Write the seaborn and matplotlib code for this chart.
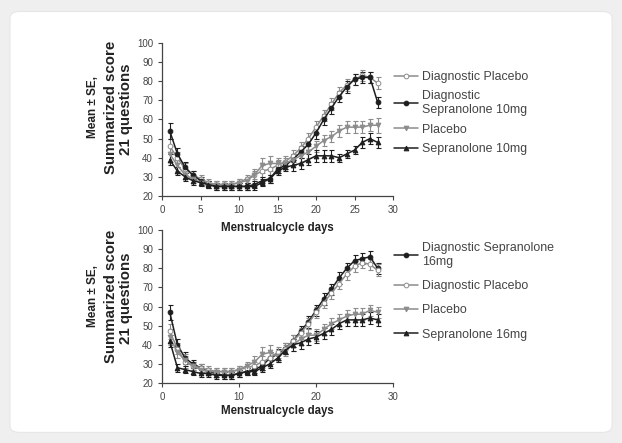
import matplotlib.pyplot as plt
import seaborn as sns
import pandas as pd
from matplotlib.patches import FancyBboxPatch

# Data: mean score per cycle day, and SE
days = list(range(1, 29))

# top panel (10mg)
top_diag_placebo = [46, 40, 34, 31, 29, 27, 26, 26, 26, 27, 29, 31, 33, 34,
                    36, 38, 41, 45, 50, 56, 62, 68, 74, 78, 81, 83, 82, 79]
top_diag_sep = [54, 42, 35, 31, 28, 26, 25, 25, 25, 25, 25, 25, 27, 29,
                34, 36, 39, 43, 47, 53, 60, 66, 72, 77, 81, 82, 82, 69]
top_placebo = [42, 36, 31, 29, 27, 26, 26, 26, 26, 27, 28, 31, 36, 37,
               37, 37, 39, 41, 43, 46, 49, 51, 54, 56, 56, 56, 57, 57]
top_sep = [39, 33, 30, 28, 27, 26, 25, 25, 25, 25, 25, 26, 28, 29,
           33, 35, 36, 37, 39, 41, 41, 41, 40, 42, 44, 48, 50, 48]

top_diag_placebo_se = [4, 3, 3, 2, 2, 2, 2, 2, 2, 2, 2, 2, 3, 3,
                       3, 3, 3, 3, 3, 3, 3, 3, 3, 3, 3, 3, 3, 3]
top_diag_sep_se = [4, 3, 3, 2, 2, 2, 2, 2, 2, 2, 2, 2, 2, 2,
                   2, 2, 3, 3, 3, 3, 3, 3, 3, 3, 3, 3, 3, 3]
top_placebo_se = [4, 3, 2, 2, 2, 2, 2, 2, 2, 2, 2, 3, 4, 4,
                  3, 3, 3, 3, 3, 3, 3, 3, 3, 3, 3, 3, 3, 4]
top_sep_se = [3, 2, 2, 2, 2, 2, 2, 2, 2, 2, 2, 2, 2, 2,
              2, 2, 3, 3, 3, 3, 3, 3, 2, 2, 2, 3, 3, 3]

# bottom panel (16mg)
bot_diag_sep = [57, 40, 33, 30, 28, 26, 25, 24, 24, 25, 26, 27, 29, 33,
                35, 38, 42, 47, 52, 58, 64, 69, 75, 80, 84, 85, 86, 80]
bot_diag_placebo = [47, 38, 31, 29, 28, 27, 26, 26, 26, 27, 28, 29, 31, 33,
                    36, 38, 42, 46, 51, 57, 62, 67, 72, 77, 81, 83, 82, 79]
bot_placebo = [44, 36, 32, 29, 27, 26, 26, 26, 26, 27, 29, 31, 35, 36,
               34, 37, 40, 43, 45, 45, 48, 51, 53, 55, 56, 56, 58, 57]
bot_sep = [42, 28, 27, 26, 25, 25, 24, 24, 24, 25, 26, 26, 28, 30,
           33, 37, 40, 41, 43, 44, 46, 48, 51, 53, 53, 53, 54, 53]

bot_diag_sep_se = [4, 3, 3, 2, 2, 2, 2, 2, 2, 2, 2, 2, 2, 3,
                   3, 3, 3, 3, 3, 3, 3, 3, 3, 3, 3, 3, 3, 3]
bot_diag_placebo_se = [4, 3, 3, 2, 2, 2, 2, 2, 2, 2, 2, 2, 3, 3,
                       3, 3, 3, 3, 3, 3, 3, 3, 3, 3, 3, 3, 3, 3]
bot_placebo_se = [4, 3, 3, 2, 2, 2, 2, 2, 2, 2, 2, 3, 4, 4,
                  3, 3, 3, 3, 3, 3, 3, 3, 3, 3, 3, 3, 3, 3]
bot_sep_se = [3, 2, 2, 2, 2, 2, 2, 2, 2, 2, 2, 2, 2, 2,
              2, 2, 3, 3, 3, 3, 3, 3, 3, 3, 3, 3, 3, 3]

grey = "#8c8c8c"
black = "#1e1e1e"
text_col = "#444444"

sns.set_style("ticks")
plt.rcParams["font.family"] = ["Liberation Sans", "DejaVu Sans"]

W, H = 622, 443
fig = plt.figure(figsize=(W / 100, H / 100), dpi=100)
fig.patch.set_facecolor("#efefef")
card = FancyBboxPatch((0.016, 0.024), 0.968, 0.95,
                      boxstyle="round,pad=0,rounding_size=0.015",
                      transform=fig.transFigure, facecolor="white",
                      edgecolor="#e6e6e6", linewidth=0.8, zorder=-10)
fig.patches.append(card)

ax_top = fig.add_axes([0.2605, 0.5576, 0.3714, 0.3454])
ax_bot = fig.add_axes([0.2605, 0.1354, 0.3714, 0.3454])

top_series = [
    ("Diagnostic Placebo", top_diag_placebo, top_diag_placebo_se, grey, "o", "white"),
    ("Diagnostic\nSepranolone 10mg", top_diag_sep, top_diag_sep_se, black, "o", black),
    ("Placebo", top_placebo, top_placebo_se, grey, "v", grey),
    ("Sepranolone 10mg", top_sep, top_sep_se, black, "^", black),
]
bot_series = [
    ("Diagnostic Sepranolone\n16mg", bot_diag_sep, bot_diag_sep_se, black, "o", black),
    ("Diagnostic Placebo", bot_diag_placebo, bot_diag_placebo_se, grey, "o", "white"),
    ("Placebo", bot_placebo, bot_placebo_se, grey, "v", grey),
    ("Sepranolone 16mg", bot_sep, bot_sep_se, black, "^", black),
]


def draw_panel(ax, series, xticks, legend_anchor, spacing, label_y, xpad):
    ax.set_facecolor("none")
    for label, vals, se, color, marker, face in series:
        df = pd.DataFrame({"day": days, "score": vals})
        ax.errorbar(days, vals, yerr=se, fmt="none", ecolor=color,
                    elinewidth=0.8, capsize=1.8, capthick=0.8, zorder=2)
        sns.lineplot(data=df, x="day", y="score", ax=ax, color=color,
                     linewidth=1.1, marker=marker, markersize=3.4,
                     markerfacecolor=face, markeredgecolor=color,
                     markeredgewidth=0.7, label=label, zorder=3)
    ax.set_xlim(0, 30)
    ax.set_ylim(20, 100)
    ax.set_xticks(xticks)
    ax.set_yticks(range(20, 101, 10))
    ax.tick_params(labelsize=7, length=3, width=0.8, colors=text_col)
    for s in ["left", "bottom"]:
        ax.spines[s].set_color(text_col)
        ax.spines[s].set_linewidth(0.9)
    sns.despine(ax=ax)
    ax.set_xlabel("Menstrualcycle days", fontsize=8.3, fontweight="bold",
                  labelpad=xpad, color="#222222")
    ax.set_ylabel("")
    # three-line y label, first line smaller
    fig.text(93 / W, 1 - label_y / H, "Mean ± SE,", rotation=90,
             ha="center", va="center", fontsize=8.5, fontweight="bold",
             color="#222222")
    fig.text(111 / W, 1 - label_y / H, "Summarized score", rotation=90,
             ha="center", va="center", fontsize=10.8, fontweight="bold",
             color="#222222")
    fig.text(126 / W, 1 - (label_y + 2) / H, "21 questions", rotation=90,
             ha="center", va="center", fontsize=10.8, fontweight="bold",
             color="#222222")
    ax.legend(loc="upper left", bbox_to_anchor=legend_anchor, frameon=False,
              fontsize=8.9, handlelength=2.0, handletextpad=0.25,
              labelspacing=spacing, labelcolor=text_col)


draw_panel(ax_top, top_series, range(0, 31, 5), (0.955, 0.89), 0.6, 107, 5)
draw_panel(ax_bot, bot_series, range(0, 31, 10), (0.955, 0.995), 1.0, 296, 2)

fig.savefig("out.png", dpi=100, facecolor=fig.get_facecolor())
